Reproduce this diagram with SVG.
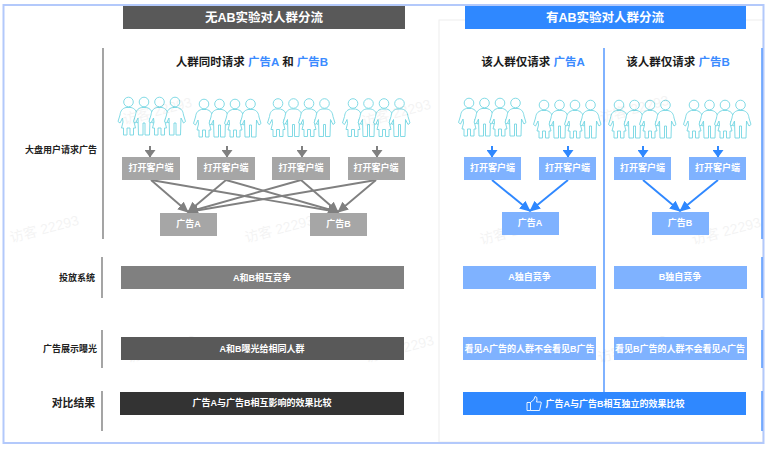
<svg xmlns="http://www.w3.org/2000/svg" width="770" height="449" viewBox="0 0 770 449">
<style>
text{font-family:"Liberation Sans","Noto Sans CJK SC",sans-serif;text-anchor:middle;dominant-baseline:central}
.hd{font-size:12.5px;font-weight:700;fill:#fff}
.ti{font-size:11.500px;font-weight:700;fill:#1a1a1a}
.bl{fill:#3b8bff}
.lb{font-size:9px;font-weight:700;fill:#222;text-anchor:end}
.bx{font-size:9px;font-weight:700;fill:#fff}
.wm{font-size:14px;fill:#000;opacity:.045;text-anchor:start}
.g1{fill:#a6a6a6}.g2{fill:#808080}.g3{fill:#595959}.g4{fill:#333}
.b1{fill:#7fb2ff}.b2{fill:#2f88ff}
.vg{stroke:#7f7f7f;stroke-width:1.4;fill:none}
.vb{stroke:#4a92ff;stroke-width:1.4;fill:none}
.cg{stroke:#808080;stroke-width:1.9;fill:none;marker-end:url(#ag)}
.cb{stroke:#2f88ff;stroke-width:1.9;fill:none;marker-end:url(#ab)}
.sg{stroke:#808080;stroke-width:2;fill:none;marker-end:url(#sag)}
.sb{stroke:#2f88ff;stroke-width:2;fill:none;marker-end:url(#sab)}
.p{fill:#fff;stroke:#74d6e2;stroke-width:.9;stroke-linejoin:round}
</style>
<defs>
<marker id="ag" markerUnits="userSpaceOnUse" markerWidth="12" markerHeight="10" refX="10" refY="5" orient="auto"><path d="M0 0L11 5L0 10z" fill="#808080"/></marker>
<marker id="ab" markerUnits="userSpaceOnUse" markerWidth="12" markerHeight="10" refX="10" refY="5" orient="auto"><path d="M0 0L11 5L0 10z" fill="#2f88ff"/></marker>
<marker id="sag" markerUnits="userSpaceOnUse" markerWidth="8" markerHeight="11" refX="7" refY="5.500" orient="auto"><path d="M0 0L7.500 5.500L0 11z" fill="#808080"/></marker>
<marker id="sab" markerUnits="userSpaceOnUse" markerWidth="8" markerHeight="11" refX="7" refY="5.500" orient="auto"><path d="M0 0L7.500 5.500L0 11z" fill="#2f88ff"/></marker>
<g id="skirt"><circle class="p" cx="0" cy="0" r="4.800"/><path class="p" d="M-2.500 5.500C-6.500 6.500-8 9-8.500 13L-10.500 19.500L-8.500 21L-6 16L-5.500 20L-7 26L-5 26L-5 33L-1.500 33L-1.500 26L1.500 26L1.500 33L5 33L5 26L7 26L5.500 20L6 16L8.500 21L10.500 19.500L8.500 13C8 9 6.500 6.500 2.500 5.500Z"/></g>
<g id="pants"><circle class="p" cx="0" cy="0" r="4.800"/><path class="p" d="M-2.500 5.500C-6.500 6.500-8 9-8.500 13L-10.500 19.500L-8.500 21L-6 16L-5.500 33L-1 33L-1 21L1 21L1 33L5.500 33L6 16L8.500 21L10.500 19.500L8.500 13C8 9 6.500 6.500 2.500 5.500Z"/></g>
<g id="crowd"><use href="#skirt" x="0"/><use href="#pants" x="15.500"/><use href="#skirt" x="31"/><use href="#pants" x="46.500"/></g>
</defs>
<rect width="770" height="449" fill="#fff"/>
<rect x="439" y="20" width="324" height="422" fill="none" stroke="#eeeeee"/>
<rect x="3.500" y="5" width="760" height="438" fill="none" stroke="#b3c9fb" stroke-width="2"/>

<g id="header-left"><rect x="123" y="6" width="282" height="23" class="g3"/><text class="hd" x="264" y="17.500">无AB实验对人群分流</text></g>
<g id="header-right"><rect x="465" y="6" width="281" height="23" class="b2"/><text class="hd" x="605" y="17.500">有AB实验对人群分流</text></g>

<g id="dividers">
<path class="vg" d="M103 48V239M102 257V298M102 330V368M102 391V431"/>
<path class="vb" d="M604 48V392M762 48V239M762 257V298M762 330V368M762 391V431"/>
</g>

<g id="titles">
<text class="ti" x="252" y="61.500">人群同时请求 <tspan class="bl">广告A</tspan> 和 <tspan class="bl">广告B</tspan></text>
<text class="ti" x="533" y="61.500">该人群仅请求 <tspan class="bl">广告A</tspan></text>
<text class="ti" x="678" y="61.500">该人群仅请求 <tspan class="bl">广告B</tspan></text>
</g>

<g id="row-labels">
<text class="lb" x="97" y="150">大盘用户请求广告</text>
<text class="lb" x="95" y="277.500">投放系统</text>
<text class="lb" x="97" y="348.500">广告展示曝光</text>
<text class="lb" x="95" y="403" style="font-size:10.800px">对比结果</text>
</g>

<g id="crowds">
<use href="#crowd" x="128.500" y="102"/>
<use href="#crowd" x="204" y="104"/>
<use href="#crowd" x="278" y="103.500"/>
<use href="#crowd" x="353" y="103.500"/>
<use href="#crowd" x="469" y="103"/>
<use href="#crowd" x="544" y="105"/>
<use href="#crowd" x="619" y="105"/>
<use href="#crowd" x="694" y="105"/>
</g>

<g id="watermarks">
<text class="wm" transform="translate(10 238) rotate(-15)">访客 22293</text>
<text class="wm" transform="translate(245 238) rotate(-15)">访客 22293</text>
<text class="wm" transform="translate(480 240) rotate(-15)">访客 22293</text>
<text class="wm" transform="translate(692 240) rotate(-15)">访客 22293</text>
<text class="wm" transform="translate(123 120) rotate(-15)">访客 22293</text>
<text class="wm" transform="translate(362 122) rotate(-15)">访客 22293</text>
<text class="wm" transform="translate(600 118) rotate(-15)">访客 22293</text>
<text class="wm" transform="translate(127 358) rotate(-15)">访客 22293</text>
<text class="wm" transform="translate(365 358) rotate(-15)">访客 22293</text>
<text class="wm" transform="translate(598 358) rotate(-15)">访客 22293</text>
</g>

<g id="connectors">
<path class="sg" d="M150 146V157"/><path class="sg" d="M227 146V157"/><path class="sg" d="M302 146V157"/><path class="sg" d="M377 146V157"/>
<path class="sb" d="M492 146V157"/><path class="sb" d="M568 146V157"/><path class="sb" d="M643 146V157"/><path class="sb" d="M718 146V157"/>
<path class="cg" d="M151 180L188 212"/><path class="cg" d="M226 180L188 212"/><path class="cg" d="M301 180L188 212"/><path class="cg" d="M376 180L188 212"/>
<path class="cg" d="M151 180L338 212"/><path class="cg" d="M226 180L338 212"/><path class="cg" d="M301 180L338 212"/><path class="cg" d="M376 180L338 212"/>
<path class="cb" d="M492 180L530 211"/><path class="cb" d="M568 180L530 211"/><path class="cb" d="M643 180L680 211"/><path class="cb" d="M718 180L680 211"/>
</g>

<g id="client-1"><rect x="122" y="157" width="58" height="23" class="g1"/><text class="bx" x="151" y="168">打开客户端</text></g>
<g id="client-2"><rect x="197" y="157" width="58" height="23" class="g1"/><text class="bx" x="226" y="168">打开客户端</text></g>
<g id="client-3"><rect x="272" y="157" width="58" height="23" class="g1"/><text class="bx" x="301" y="168">打开客户端</text></g>
<g id="client-4"><rect x="348" y="157" width="57" height="23" class="g1"/><text class="bx" x="376" y="168">打开客户端</text></g>
<g id="client-5"><rect x="464" y="157" width="57" height="23" class="b1"/><text class="bx" x="492.500" y="168">打开客户端</text></g>
<g id="client-6"><rect x="539" y="157" width="57" height="23" class="b1"/><text class="bx" x="567.500" y="168">打开客户端</text></g>
<g id="client-7"><rect x="614" y="157" width="57" height="23" class="b1"/><text class="bx" x="642.500" y="168">打开客户端</text></g>
<g id="client-8"><rect x="689" y="157" width="57" height="23" class="b1"/><text class="bx" x="717.500" y="168">打开客户端</text></g>

<g id="ad-a-left"><rect x="160" y="213" width="57" height="23" class="g1"/><text class="bx" x="188.500" y="224">广告A</text></g>
<g id="ad-b-left"><rect x="310" y="213" width="57" height="23" class="g1"/><text class="bx" x="338.500" y="224">广告B</text></g>
<g id="ad-a-right"><rect x="502" y="212" width="57" height="23" class="b1"/><text class="bx" x="530" y="223">广告A</text></g>
<g id="ad-b-right"><rect x="652" y="212" width="57" height="23" class="b1"/><text class="bx" x="680" y="223">广告B</text></g>

<g id="compete-left"><rect x="121" y="266" width="283" height="23" class="g2"/><text class="bx" x="262" y="277.500">A和B相互竞争</text></g>
<g id="compete-a"><rect x="463" y="266" width="133" height="23" class="b1"/><text class="bx" x="529.500" y="277">A独自竞争</text></g>
<g id="compete-b"><rect x="614" y="266" width="133" height="23" class="b1"/><text class="bx" x="680" y="277">B独自竞争</text></g>
<g id="expose-left"><rect x="121" y="337" width="283" height="23" class="g3"/><text class="bx" x="262" y="348.500">A和B曝光给相同人群</text></g>
<g id="expose-a"><rect x="463" y="337" width="133" height="23" class="b1"/><text class="bx" x="529.500" y="348.500">看见A广告的人群不会看见B广告</text></g>
<g id="expose-b"><rect x="614" y="337" width="133" height="23" class="b1"/><text class="bx" x="680" y="348.500">看见B广告的人群不会看见A广告</text></g>
<g id="result-left"><rect x="120" y="392" width="284" height="23" class="g4"/><text class="bx" x="262" y="403">广告A与广告B相互影响的效果比较</text></g>
<g id="result-right"><rect x="463" y="392" width="283" height="23" class="b2"/>
<path d="M527 402.500H530.500V410.500H527zM530.500 402.500L534 399.500L535 396.500Q537.500 396.500 537 400L536.500 402H541Q541.500 403 541 404L539.500 410.500H530.500" fill="none" stroke="#fff" stroke-width=".9"/>
<text class="bx" x="615" y="403.500">广告A与广告B相互独立的效果比较</text></g>
</svg>
